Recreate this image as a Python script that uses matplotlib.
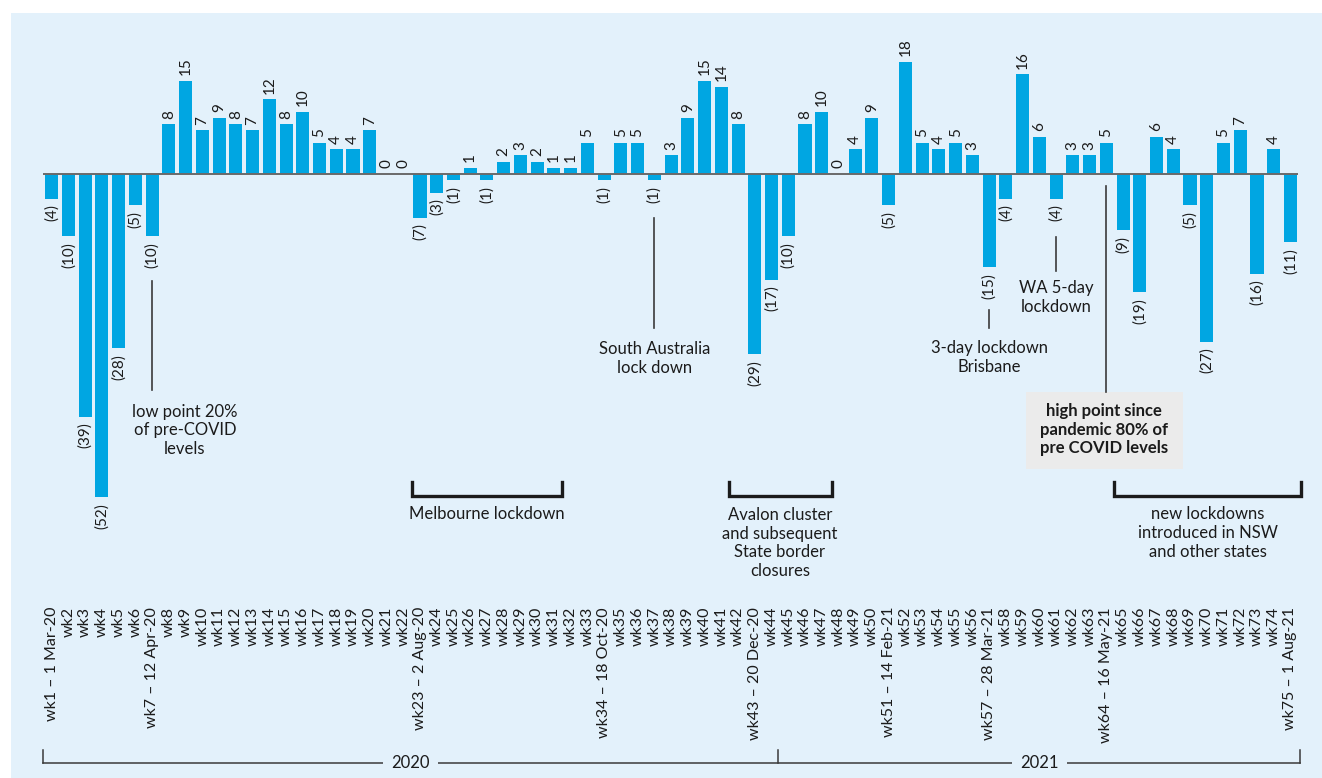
import matplotlib
matplotlib.use("Agg")
import matplotlib.pyplot as plt
import matplotlib.transforms as mtransforms
from matplotlib.patches import Rectangle

# ---------------- data ----------------
weeks = [f"wk{i}" for i in range(1, 76)]
date_labels = {
    1: "wk1 \u2013 1 Mar-20", 7: "wk7 \u2013 12 Apr-20", 23: "wk23 \u2013 2 Aug-20",
    34: "wk34 \u2013 18 Oct-20", 43: "wk43 \u2013 20 Dec-20", 51: "wk51 \u2013 14 Feb-21",
    57: "wk57 \u2013 28 Mar-21", 64: "wk64 \u2013 16 May-21", 75: "wk75 \u2013 1 Aug-21",
}
tick_labels = [date_labels.get(i + 1, w) for i, w in enumerate(weeks)]

values = [-4, -10, -39, -52, -28, -5, -10, 8, 15, 7,
          9, 8, 7, 12, 8, 10, 5, 4, 4, 7,
          0, 0, -7, -3, -1, 1, -1, 2, 3, 2,
          1, 1, 5, -1, 5, 5, -1, 3, 9, 15,
          14, 8, -29, -17, -10, 8, 10, 0, 4, 9,
          -5, 18, 5, 4, 5, 3, -15, -4, 16, 6,
          -4, 3, 3, 5, -9, -19, 6, 4, -5, -27,
          5, 7, -16, 4, -11]

years = ["2020", "2021"]
year_bounds = [-0.52, 43.4, 74.57]

# ---------------- style ----------------
W, H = 1322, 778
BAR = "#00A6E2"
BG = "#E3F1FB"
TXT = "#1b1b1b"
FONT = ["Lato", "DejaVu Sans"]
plt.rcParams["font.family"] = FONT

fig = plt.figure(figsize=(W / 100, H / 100), dpi=100)
fig.patch.set_facecolor("white")
fig.patches.append(Rectangle((11 / W, 0), 1 - 11 / W, 1 - 13 / H,
                             transform=fig.transFigure, facecolor=BG,
                             edgecolor="none", zorder=-10))

ax_left, ax_right = 43, 1298
ax_bottom_px = 600
ax = fig.add_axes([ax_left / W, (H - ax_bottom_px) / H,
                   (ax_right - ax_left) / W, ax_bottom_px / H])
ax.patch.set_alpha(0)

px_per_unit_x = 16.74
x0_px = 51.7
px_per_unit_y = 6.22
zero_px = 174

ax.set_xlim((ax_left - x0_px) / px_per_unit_x, (ax_right - x0_px) / px_per_unit_x)
ax.set_ylim(-(ax_bottom_px - zero_px) / px_per_unit_y, zero_px / px_per_unit_y)

xs = list(range(len(values)))
ax.bar(xs, values, width=0.78, color=BAR, zorder=2)
ax.axhline(0, color="#6a6a6a", lw=1.4, zorder=3)

for x, v in zip(xs, values):
    if v >= 0:
        ax.annotate(f"{v}", (x, v), xytext=(0, 4), textcoords="offset points",
                    rotation=90, ha="center", va="bottom", fontsize=11, color=TXT)
    else:
        ax.annotate(f"({-v})", (x, v), xytext=(0, -4), textcoords="offset points",
                    rotation=90, ha="center", va="top", fontsize=11, color=TXT)

ax.set_xticks(xs)
ax.set_xticklabels(tick_labels, rotation=90, fontsize=11.5, color=TXT)
ax.tick_params(axis="x", length=0, pad=5)
ax.set_yticks([])
for s in ax.spines.values():
    s.set_visible(False)

# transform: x in data, y in figure pixels from top
fig_px = mtransforms.Affine2D().scale(1, -1).translate(0, H)
tr = mtransforms.blended_transform_factory(ax.transData, fig_px)

def vline(x, y0, y1, lw=1.2, color="#3a3a3a"):
    ax.plot([x, x], [y0, y1], transform=tr, color=color, lw=lw, clip_on=False)

def bracket(xa, xb, ytop, ybot, lw=2.4):
    ax.plot([xa, xa, xb, xb], [ytop, ybot, ybot, ytop], transform=tr,
            color=TXT, lw=lw, clip_on=False, solid_joinstyle="miter")

def note(x, y, s, bold=False, **kw):
    ax.text(x, y, s, transform=tr, ha="center", va="center", fontsize=12,
            color=TXT, linespacing=1.2, fontweight="bold" if bold else "normal",
            clip_on=False, **kw)

# event annotations
vline(6, 281, 390)
note(7.95, 430.5, "low point 20%\nof pre-COVID\nlevels")

vline(36, 218, 328)
note(36, 358.5, "South Australia\nlock down")

vline(56, 310, 328)
note(56, 357.5, "3-day lockdown\nBrisbane")

vline(60, 237, 271)
note(60, 297.5, "WA 5-day\nlockdown")

vline(63, 186, 392)
ax.add_patch(Rectangle((58.2, 469), 9.37, -77.5, transform=tr,
                       facecolor="#EBEBEB", edgecolor="none", clip_on=False, zorder=1))
note(62.85, 429.5, "high point since\npandemic 80% of\npre COVID levels", bold=True)

bracket(21.5, 30.5, 482, 496)
note(26, 514, "Melbourne lockdown")

bracket(40.48, 46.6, 482, 496)
note(43.5, 543, "Avalon cluster\nand subsequent\nState border\nclosures")

bracket(63.46, 74.6, 482, 496)
note(69.05, 533, "new lockdowns\nintroduced in NSW\nand other states")

# year axis
ax.plot([year_bounds[0], year_bounds[-1]], [763, 763], transform=tr,
        color="#3a3a3a", lw=1.1, clip_on=False)
for b in year_bounds:
    ax.plot([b, b], [750, 763], transform=tr, color="#3a3a3a", lw=1.1, clip_on=False)
for i, yr in enumerate(years):
    cx = (year_bounds[i] + year_bounds[i + 1]) / 2
    ax.text(cx, 763, yr, transform=tr, ha="center", va="center", fontsize=12,
            color=TXT, bbox=dict(facecolor=BG, edgecolor="none", pad=6),
            clip_on=False)

fig.savefig("out.png", dpi=100, facecolor=fig.get_facecolor())
